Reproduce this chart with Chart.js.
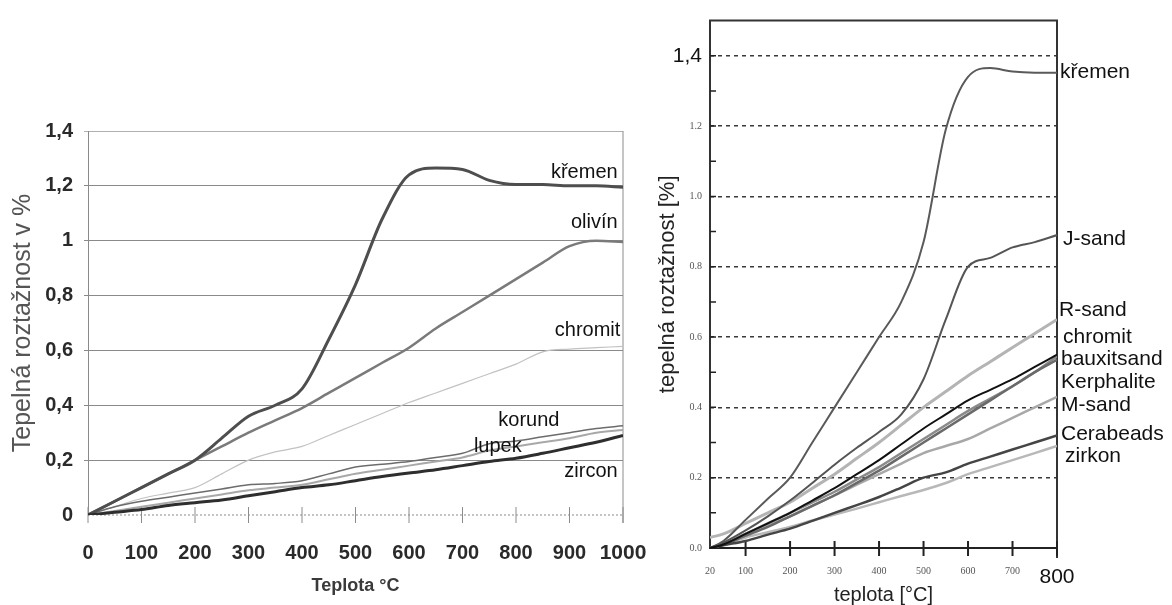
<!DOCTYPE html>
<html>
<head>
<meta charset="utf-8">
<title>Tepelná roztažnost ostřiv</title>
<script src="https://cdn.jsdelivr.net/npm/chart.js@4.4.1/dist/chart.umd.min.js"></script>
<style>
  html, body { margin: 0; padding: 0; background: #fff; }
  #wrap { position: relative; width: 1172px; height: 605px; overflow: hidden; }
  #left-chart { position: absolute; left: 0; top: 0; }
  #right-chart { position: absolute; left: 640px; top: 0; }
</style>
</head>
<body>
<div id="wrap">
  <canvas id="left-chart" width="680" height="605"></canvas>
  <canvas id="right-chart" width="532" height="605"></canvas>
</div>
<script>
// --- 1. DATA ---

// left graph: 0 - 1000 °C
const leftTemps   = [0, 50, 100, 150, 200, 250, 300, 350, 400, 450, 500, 550, 600, 650, 700, 750, 800, 850, 900, 950, 1000];
const leftKremen  = [0, 0.05, 0.1, 0.15, 0.2, 0.28, 0.36, 0.4, 0.46, 0.64, 0.84, 1.08, 1.24, 1.265, 1.26, 1.22, 1.205, 1.205, 1.2, 1.2, 1.195];
const leftOlivin  = [0, 0.05, 0.1, 0.15, 0.2, 0.25, 0.3, 0.345, 0.39, 0.445, 0.5, 0.555, 0.61, 0.68, 0.74, 0.8, 0.86, 0.92, 0.98, 1.0, 0.995];
const leftChromit = [0, 0.03, 0.06, 0.08, 0.1, 0.15, 0.2, 0.23, 0.25, 0.29, 0.33, 0.37, 0.41, 0.445, 0.48, 0.515, 0.55, 0.595, 0.605, 0.61, 0.615];
const leftKorund  = [0, 0.03, 0.05, 0.065, 0.08, 0.095, 0.11, 0.115, 0.125, 0.15, 0.175, 0.185, 0.195, 0.21, 0.225, 0.26, 0.27, 0.285, 0.3, 0.315, 0.325];
const leftLupek   = [0, 0.015, 0.03, 0.045, 0.06, 0.075, 0.09, 0.1, 0.11, 0.13, 0.15, 0.165, 0.18, 0.195, 0.21, 0.235, 0.25, 0.265, 0.28, 0.3, 0.31];
const leftZircon  = [0, 0.01, 0.02, 0.035, 0.045, 0.055, 0.07, 0.085, 0.1, 0.11, 0.125, 0.14, 0.153, 0.165, 0.18, 0.195, 0.207, 0.225, 0.245, 0.265, 0.29];

const leftXTicks = [0, 100, 200, 300, 400, 500, 600, 700, 800, 900, 1000];
const leftYTicks = [0, 0.2, 0.4, 0.6, 0.8, 1.0, 1.2, 1.4];

// right graph: 20 - 800 °C
const rightTemps      = [20, 50, 100, 150, 200, 250, 300, 350, 400, 450, 500, 550, 600, 650, 700, 750, 800];
const rightKremen     = [0, 0.02, 0.08, 0.14, 0.2, 0.3, 0.4, 0.5, 0.6, 0.7, 0.87, 1.19, 1.34, 1.365, 1.355, 1.352, 1.352];
const rightJsand      = [0, 0.015, 0.05, 0.09, 0.135, 0.185, 0.237, 0.285, 0.33, 0.38, 0.48, 0.65, 0.8, 0.825, 0.855, 0.87, 0.89];
const rightRsand      = [0.03, 0.04, 0.07, 0.1, 0.13, 0.17, 0.21, 0.255, 0.3, 0.35, 0.4, 0.445, 0.49, 0.53, 0.57, 0.61, 0.65];
const rightChromit    = [0, 0.01, 0.04, 0.07, 0.1, 0.13, 0.16, 0.195, 0.23, 0.27, 0.31, 0.35, 0.39, 0.425, 0.46, 0.5, 0.545];
const rightBauxitsand = [0, 0.01, 0.04, 0.07, 0.1, 0.135, 0.17, 0.21, 0.25, 0.295, 0.34, 0.38, 0.42, 0.45, 0.48, 0.515, 0.55];
const rightKerphalite = [0, 0.01, 0.035, 0.06, 0.09, 0.12, 0.15, 0.185, 0.22, 0.26, 0.3, 0.34, 0.38, 0.42, 0.46, 0.5, 0.535];
const rightMsand      = [0, 0.01, 0.04, 0.065, 0.09, 0.12, 0.15, 0.18, 0.21, 0.24, 0.27, 0.29, 0.31, 0.34, 0.37, 0.4, 0.43];
const rightCerabeads  = [0, 0.008, 0.02, 0.038, 0.055, 0.077, 0.1, 0.122, 0.145, 0.172, 0.2, 0.215, 0.24, 0.26, 0.28, 0.3, 0.32];
const rightZirkon     = [0, 0.01, 0.03, 0.045, 0.06, 0.078, 0.095, 0.112, 0.13, 0.148, 0.165, 0.185, 0.21, 0.23, 0.25, 0.27, 0.29];

const rightXTicks = [20, 100, 200, 300, 400, 500, 600, 700, 800];
const rightYTicks = [0, 0.1, 0.2, 0.3, 0.4, 0.5, 0.6, 0.7, 0.8, 0.9, 1.0, 1.1, 1.2, 1.3, 1.4];


// --- 2. HELPERS ---

const arial = '"Liberation Sans", Arial, sans-serif';
const serif = '"Liberation Serif", "DejaVu Serif", serif';

function points(temps, values) {
  return temps.map((t, i) => ({ x: t, y: values[i] }));
}

function line(name, temps, values, color, width) {
  return {
    label: name,
    data: points(temps, values),
    borderColor: color,
    borderWidth: width,
    pointRadius: 0,
    fill: false,
    cubicInterpolationMode: 'monotone'
  };
}

function fixedTicks(list) {
  return scale => { scale.ticks = list.map(v => ({ value: v })); };
}

// curve names written next to the curves (value coordinates)
const leftNotes = [
  { text: 'křemen',  x: 990, y: 1.25,  align: 'right' },
  { text: 'olivín',  x: 990, y: 1.068, align: 'right' },
  { text: 'chromit', x: 995, y: 0.674, align: 'right' },
  { text: 'korund',  x: 824, y: 0.343, align: 'center' },
  { text: 'lupek',   x: 766, y: 0.248, align: 'center' },
  { text: 'zircon',  x: 990, y: 0.157, align: 'right' }
];

const rightNotes = [
  { text: 'křemen',     y: 1.353, dx: 3 },
  { text: 'J-sand',     y: 0.879, dx: 6 },
  { text: 'R-sand',     y: 0.675, dx: 2 },
  { text: 'chromit',    y: 0.6,   dx: 6 },
  { text: 'bauxitsand', y: 0.537, dx: 4 },
  { text: 'Kerphalite', y: 0.472, dx: 4 },
  { text: 'M-sand',     y: 0.407, dx: 4 },
  { text: 'Cerabeads',  y: 0.325, dx: 4 },
  { text: 'zirkon',     y: 0.26,  dx: 8 }
];


// --- 3. LEFT GRAPH ---

const leftDecor = {
  id: 'leftDecor',
  beforeDatasetsDraw(chart) {
    const { ctx, chartArea: a, scales: { x, y } } = chart;
    const y0 = y.getPixelForValue(0);
    ctx.save();
    ctx.strokeStyle = '#8c8c8c';
    ctx.lineWidth = 1;
    ctx.beginPath();
    ctx.moveTo(a.right, a.top);
    ctx.lineTo(a.right, y0 + 8);
    ctx.stroke();
    // dotted zero line with crossing ticks
    ctx.setLineDash([2, 2]);
    ctx.beginPath();
    ctx.moveTo(a.left, y0);
    ctx.lineTo(a.right, y0);
    ctx.stroke();
    ctx.setLineDash([]);
    ctx.beginPath();
    leftXTicks.forEach(v => {
      const px = x.getPixelForValue(v);
      ctx.moveTo(px, y0 - 8);
      ctx.lineTo(px, y0 + 8);
    });
    ctx.stroke();
    ctx.restore();
  },
  afterDatasetsDraw(chart) {
    const { ctx, scales: { x, y } } = chart;
    ctx.save();
    ctx.font = '20px ' + arial;
    ctx.fillStyle = '#111';
    ctx.textBaseline = 'middle';
    leftNotes.forEach(n => {
      ctx.textAlign = n.align;
      ctx.fillText(n.text, x.getPixelForValue(n.x), y.getPixelForValue(n.y));
    });
    ctx.restore();
  }
};

new Chart(document.getElementById('left-chart'), {
  type: 'line',
  data: {
    datasets: [
      line('zircon', leftTemps, leftZircon, '#2e2e2e', 3),
      line('křemen', leftTemps, leftKremen, '#4e4e4e', 3),
      line('olivín', leftTemps, leftOlivin, '#7a7a7a', 2.5),
      line('korund', leftTemps, leftKorund, '#6c6c6c', 1.5),
      line('lupek', leftTemps, leftLupek, '#a8a8a8', 2),
      line('chromit', leftTemps, leftChromit, '#c2c2c2', 1.2)
    ]
  },
  options: {
    responsive: false,
    animation: false,
    layout: { padding: { top: 131, right: 57, left: 0, bottom: 0 } },
    plugins: { legend: { display: false }, tooltip: { enabled: false } },
    scales: {
      x: {
        type: 'linear',
        min: 0,
        max: 1000,
        afterBuildTicks: fixedTicks(leftXTicks),
        afterFit: s => { s.height = 90; },
        grid: { display: false, drawTicks: false },
        border: { display: false },
        ticks: {
          padding: 26,
          maxRotation: 0,
          minRotation: 0,
          autoSkip: false,
          color: '#2a2a2a',
          font: c => ({ family: arial, size: c.tick && c.tick.value === 1000 ? 21 : 20, weight: c.tick && c.tick.value === 1000 ? '900' : 'bold' }),
          callback: v => String(v)
        },
        title: {
          display: true,
          text: 'Teplota °C',
          color: '#3a3a3a',
          font: { family: arial, size: 18, weight: 'bold' },
          padding: { top: 0, bottom: 8 }
        }
      },
      y: {
        min: 0,
        max: 1.4,
        afterBuildTicks: fixedTicks(leftYTicks),
        afterFit: s => { s.width = 88; },
        grid: {
          color: c => c.tick && c.tick.value === 0 ? 'rgba(0,0,0,0)' : (c.tick && c.tick.value > 1.3 ? '#b0b0b0' : '#8a8a8a'),
          lineWidth: 1,
          tickLength: 4
        },
        border: { display: true, color: '#8a8a8a', width: 1 },
        ticks: {
          padding: 11,
          color: '#2a2a2a',
          font: { family: arial, size: 20, weight: 'bold' },
          callback: v => String(Math.round(v * 10) / 10).replace('.', ',')
        },
        title: {
          display: true,
          text: 'Tepelná roztažnost v %',
          color: '#555',
          font: { family: arial, size: 25 },
          padding: { top: 8, bottom: 0 }
        }
      }
    }
  },
  plugins: [leftDecor]
});


// --- 4. RIGHT GRAPH ---

const rightDecor = {
  id: 'rightDecor',
  beforeDatasetsDraw(chart) {
    const { ctx, chartArea: a, scales: { x, y } } = chart;
    const y0 = y.getPixelForValue(0);
    ctx.save();
    ctx.strokeStyle = '#333';
    ctx.lineWidth = 2;
    ctx.beginPath();
    ctx.moveTo(a.left, y0);
    ctx.lineTo(a.left, a.top);
    ctx.lineTo(a.right, a.top);
    ctx.lineTo(a.right, y0 + 10);
    ctx.stroke();
    // x ticks crossing the axis
    ctx.strokeStyle = '#222';
    ctx.beginPath();
    rightXTicks.forEach(v => {
      if (v === 20) return;
      const px = x.getPixelForValue(v);
      ctx.moveTo(px, y0 - 7);
      ctx.lineTo(px, y0 + 8);
    });
    ctx.stroke();
    // small inside ticks on the y axis
    ctx.lineWidth = 1.5;
    ctx.beginPath();
    rightYTicks.forEach(v => {
      if (v === 0) return;
      const py = y.getPixelForValue(v);
      ctx.moveTo(a.left, py);
      ctx.lineTo(a.left + 6, py);
    });
    ctx.stroke();
    ctx.restore();
  },
  afterDatasetsDraw(chart) {
    const { ctx, chartArea: a, scales: { y } } = chart;
    ctx.save();
    ctx.font = '21px ' + arial;
    ctx.fillStyle = '#111';
    ctx.textBaseline = 'middle';
    ctx.textAlign = 'left';
    rightNotes.forEach(n => {
      ctx.fillText(n.text, a.right + n.dx, y.getPixelForValue(n.y));
    });
    ctx.restore();
  }
};

const isMajor = v => Math.round(v * 10) % 2 === 0;

new Chart(document.getElementById('right-chart'), {
  type: 'line',
  data: {
    datasets: [
      line('bauxitsand', rightTemps, rightBauxitsand, '#111111', 2),
      line('Cerabeads', rightTemps, rightCerabeads, '#454545', 2.5),
      line('křemen', rightTemps, rightKremen, '#5a5a5a', 2),
      line('J-sand', rightTemps, rightJsand, '#555555', 2),
      line('Kerphalite', rightTemps, rightKerphalite, '#6a6a6a', 2.5),
      line('chromit', rightTemps, rightChromit, '#8a8a8a', 2.5),
      line('M-sand', rightTemps, rightMsand, '#a8a8a8', 2.5),
      line('R-sand', rightTemps, rightRsand, '#b4b4b4', 3),
      line('zirkon', rightTemps, rightZirkon, '#b8b8b8', 2.5)
    ]
  },
  options: {
    responsive: false,
    animation: false,
    layout: { padding: { top: 16, right: 115, left: 0, bottom: 0 } },
    plugins: { legend: { display: false }, tooltip: { enabled: false } },
    scales: {
      x: {
        type: 'linear',
        min: 20,
        max: 800,
        afterBuildTicks: fixedTicks(rightXTicks),
        afterFit: s => { s.height = 57; },
        grid: { display: false, drawTicks: false },
        border: { display: true, color: '#222', width: 2 },
        ticks: {
          padding: 17,
          maxRotation: 0,
          autoSkip: false,
          color: c => c.tick && c.tick.value === 800 ? '#111' : '#555',
          font: c => c.tick && c.tick.value === 800 ? { family: arial, size: 21 } : { family: serif, size: 10 },
          callback: v => String(v)
        },
        title: {
          display: true,
          text: 'teplota [°C]',
          color: '#222',
          font: { family: arial, size: 20, lineHeight: 1 },
          padding: { top: 0, bottom: 0 }
        }
      },
      y: {
        min: 0,
        max: 1.5,
        afterBuildTicks: fixedTicks(rightYTicks),
        afterFit: s => { s.width = 70; },
        grid: {
          color: c => (c.tick && isMajor(c.tick.value) && c.tick.value > 0.05) ? '#3a3a3a' : 'rgba(0,0,0,0)',
          lineWidth: 1.5,
          drawTicks: false
        },
        border: { display: false, dash: [4, 4] },
        ticks: {
          padding: 8,
          color: c => c.tick && c.tick.value > 1.35 ? '#111' : '#555',
          font: c => c.tick && c.tick.value > 1.35 ? { family: arial, size: 21 } : { family: serif, size: 10 },
          callback: v => {
            if (!isMajor(v)) return '';
            if (v > 1.35) return '1,4';
            return v.toFixed(1);
          }
        },
        title: {
          display: true,
          text: 'tepelná roztažnost [%]',
          color: '#222',
          font: { family: arial, size: 22 },
          padding: { top: 15, bottom: 0 }
        }
      }
    }
  },
  plugins: [rightDecor]
});
</script>
</body>
</html>
